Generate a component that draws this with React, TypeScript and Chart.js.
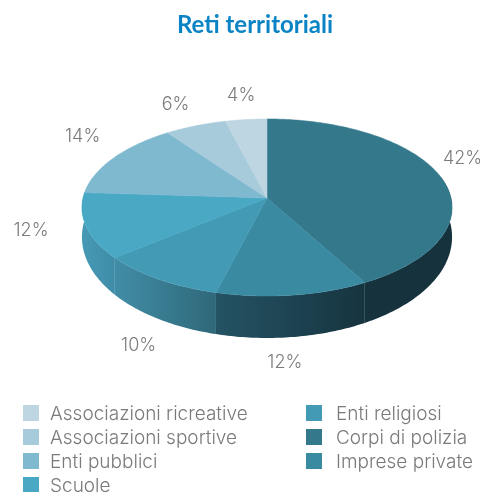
import React, { useEffect, useRef } from "react";
import { Chart, registerables } from "chart.js";

Chart.register(...registerables);

const categories = ["Corpi di polizia", "Imprese private", "Enti religiosi", "Scuole", "Enti pubblici", "Associazioni sportive", "Associazioni ricreative"];
const shares = [42, 12, 10, 12, 14, 6, 4];
const sliceColors = ["#34788C", "#3A8AA2", "#429AB4", "#49A9C5", "#7FB9CF", "#A8CBDB", "#BED6E2"];
const wallFrom = ["#15323D", "#245363", "#418DA6", "#4699B4", "#7FB9CF", "#A8CBDB", "#BED6E2"];
const wallTo = ["#15323D", "#16343F", "#2F6879", "#3F8CA8", "#7FB9CF", "#A8CBDB", "#BED6E2"];
const legendColumns = [["Associazioni ricreative", "Associazioni sportive", "Enti pubblici", "Scuole"], ["Enti religiosi", "Corpi di polizia", "Imprese private"]];
const labelNudgeX = [22, -8, -20, -55, -31, -20, -5];
const labelNudgeY = [-18, 67, 66, 5, -21, -21, -24];

const TITLE_FONT = "Lato";
const LEGEND_FONT = "300 19px Inter";
const VALUE_FONT = "300 18px Inter";
const GREY = "#7A7A7A";
const APEX = { x: 267, y: 198 };
const TILT = 87.5 / 184;
const PERSPECTIVE = 0.107;

function project(angle: number, r: number) {
  const u = Math.cos(angle);
  const v = Math.sin(angle);
  const w = 1 - PERSPECTIVE * v;
  return { x: APEX.x + (r * u) / w, y: APEX.y + (r * TILT * v) / w, v };
}

function rimPoints(a0: number, a1: number, r: number) {
  const steps = Math.max(2, Math.ceil(Math.abs(a1 - a0) / 0.015));
  const pts = [];
  for (let i = 0; i <= steps; i++) pts.push(project(a0 + ((a1 - a0) * i) / steps, r));
  return pts;
}

const depthAt = (v: number) => 28 + 14 * Math.max(0, v);

const pie3d = {
  id: "pie3d",
  beforeDatasetDraw(chart: any) {
    const { ctx } = chart;
    const arcs = chart.getDatasetMeta(0).data;
    ctx.save();
    // side wall: only the front half of the rim is visible
    arcs.forEach((arc: any, i: number) => {
      const a0 = Math.max(arc.startAngle, -0.25);
      const a1 = Math.min(arc.endAngle, Math.PI + 0.25);
      if (a1 <= a0) return;
      const top = rimPoints(a0, a1, arc.outerRadius);
      const xs = top.map((p) => p.x);
      const g = ctx.createLinearGradient(Math.min(...xs), 0, Math.max(...xs), 0);
      g.addColorStop(0, wallFrom[i]);
      g.addColorStop(1, wallTo[i]);
      ctx.beginPath();
      top.forEach((p, k) => (k ? ctx.lineTo(p.x, p.y) : ctx.moveTo(p.x, p.y)));
      [...top].reverse().forEach((p) => ctx.lineTo(p.x, p.y + depthAt(p.v)));
      ctx.closePath();
      ctx.fillStyle = g;
      ctx.fill();
    });
    // top face
    arcs.forEach((arc: any) => {
      const color = arc.options.backgroundColor;
      ctx.beginPath();
      ctx.moveTo(APEX.x, APEX.y);
      rimPoints(arc.startAngle, arc.endAngle, arc.outerRadius).forEach((p) => ctx.lineTo(p.x, p.y));
      ctx.closePath();
      ctx.fillStyle = color;
      ctx.strokeStyle = color;
      ctx.lineWidth = 0.5;
      ctx.fill();
      ctx.stroke();
    });
    // value labels
    ctx.font = VALUE_FONT;
    ctx.fillStyle = GREY;
    ctx.textAlign = "center";
    ctx.textBaseline = "middle";
    arcs.forEach((arc: any, i: number) => {
      const p = project((arc.startAngle + arc.endAngle) / 2, arc.outerRadius);
      ctx.fillText(`${shares[i]}%`, p.x + labelNudgeX[i], p.y + labelNudgeY[i]);
    });
    ctx.restore();
    return false;
  },
};

const sideLegend = {
  id: "sideLegend",
  afterDraw(chart: any) {
    const { ctx } = chart;
    const bg = chart.data.datasets[0].backgroundColor;
    ctx.save();
    ctx.font = LEGEND_FONT;
    ctx.textAlign = "left";
    ctx.textBaseline = "middle";
    legendColumns.forEach((col, c) => {
      const x = c === 0 ? 23 : 306;
      col.forEach((name, r) => {
        const y = 413 + r * 24;
        ctx.fillStyle = bg[chart.data.labels.indexOf(name)];
        ctx.fillRect(x, y - 8, 16, 16);
        ctx.fillStyle = GREY;
        ctx.fillText(name, x + (c === 0 ? 27 : 30), y + 1);
      });
    });
    ctx.restore();
  },
};

export default function App() {
  const ref = useRef<HTMLCanvasElement>(null);
  useEffect(() => {
    const chart = new Chart(ref.current!, {
      type: "pie",
      data: { labels: categories, datasets: [{ data: shares, backgroundColor: sliceColors, borderWidth: 0, radius: 184 }] },
      options: {
        responsive: false,
        animation: false,
        layout: { padding: { left: 30 } },
        plugins: {
          legend: { display: false },
          tooltip: { enabled: false },
          title: {
            display: true,
            text: "Reti territoriali",
            color: "#0A84C4",
            font: { family: TITLE_FONT, size: 24, weight: "bold" },
            padding: { top: 11, bottom: 10 },
          },
        },
      },
      plugins: [pie3d, sideLegend],
    } as any);
    return () => chart.destroy();
  }, []);
  return (
    <div style={{ position: "fixed", left: 0, top: 0 }}>
      <canvas ref={ref} width={480} height={492} style={{ display: "block" }} />
    </div>
  );
}
